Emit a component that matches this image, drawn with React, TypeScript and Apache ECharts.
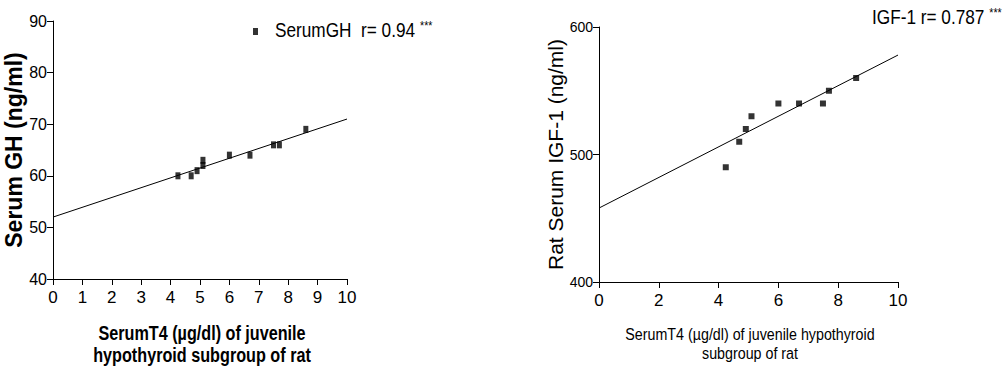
import React, { useEffect, useRef } from "react";
import * as echarts from "echarts";

const ghPoints: [number, number][] = [
  [4.25, 60], [4.7, 60], [4.9, 61], [5.1, 62], [5.1, 63],
  [6.0, 64], [6.7, 64], [7.5, 66], [7.7, 66], [8.6, 69],
];
const ghFit: [number, number][] = [[0, 52], [10, 71]];
const igfPoints: [number, number][] = [
  [4.24, 490], [4.69, 510], [4.91, 520], [5.1, 530], [6.0, 540],
  [6.69, 540], [7.49, 540], [7.69, 550], [8.6, 560],
];
const igfFit: [number, number][] = [[0, 458], [10, 578]];
const leftXTicks = { min: 0, max: 10, interval: 1 };
const leftYTicks = { min: 40, max: 90, interval: 10 };
const rightXTicks = { min: 0, max: 10, interval: 2 };
const rightYTicks = { min: 400, max: 600, interval: 100 };
const ghLegend = "SerumGH  r= 0.94";
const igfLegend = "IGF-1 r= 0.787";
const leftXTitle = "SerumT4 (µg/dl) of juvenile\nhypothyroid subgroup of rat";
const rightXTitle = "SerumT4 (µg/dl) of juvenile hypothyroid\nsubgroup of rat";

const FONT = "Liberation Sans, Arial, sans-serif";

function axisBase(labelSize: number, labelMargin: number, extra: any) {
  return {
    axisLine: { show: true, lineStyle: { color: "#000", width: 1 } },
    axisTick: { show: true, length: 6, lineStyle: { color: "#000", width: 1 } },
    splitLine: { show: false },
    axisLabel: { color: "#000", fontFamily: FONT, fontSize: labelSize, margin: labelMargin },
    ...extra,
  };
}

export default function App() {
  const ref = useRef<HTMLDivElement>(null);
  useEffect(() => {
    if (!ref.current) return;
    const chart = echarts.init(ref.current, null, { renderer: "svg" });
    chart.setOption({
      animation: false,
      backgroundColor: "#fff",
      textStyle: { fontFamily: FONT },
      grid: [
        { left: 53, top: 21, width: 294, height: 258 },
        { left: 599, top: 27, width: 299, height: 255 },
      ],
      legend: {
        data: ["SerumGH"],
        left: 253,
        top: 28,
        padding: 0,
        icon: "rect",
        itemWidth: 5,
        itemHeight: 7,
        formatter: () => "",
        textStyle: { fontSize: 7, lineHeight: 7 },
      },
      graphic: [
        {
          type: "text",
          x: 275,
          y: 30,
          scaleX: 0.82,
          style: {
            text: ghLegend + " {c|***}",
            fill: "#000",
            font: "21px " + FONT,
            textVerticalAlign: "middle",
            rich: { c: { fontSize: 13, fill: "#000", fontFamily: FONT, verticalAlign: "top", padding: [0, 0, 6, 0] } },
          },
        },
        {
          type: "text",
          x: 872,
          y: 17,
          scaleX: 0.82,
          style: {
            text: igfLegend + " {c|***}",
            fill: "#000",
            font: "21px " + FONT,
            textVerticalAlign: "middle",
            rich: { c: { fontSize: 13, fill: "#000", fontFamily: FONT, verticalAlign: "top", padding: [0, 0, 6, 0] } },
          },
        },
        {
          type: "text",
          x: 202,
          y: 344,
          scaleX: 0.81,
          style: {
            text: leftXTitle,
            fill: "#000",
            font: "bold 20px " + FONT,
            lineHeight: 22,
            textAlign: "center",
            textVerticalAlign: "middle",
          },
        },
        {
          type: "text",
          x: 750,
          y: 343.5,
          scaleX: 0.84,
          style: {
            text: rightXTitle,
            fill: "#000",
            font: "17px " + FONT,
            lineHeight: 19,
            textAlign: "center",
            textVerticalAlign: "middle",
          },
        },
      ],
      xAxis: [
        axisBase(17, 10, { type: "value", gridIndex: 0, ...leftXTicks }),
        axisBase(17, 10, { type: "value", gridIndex: 1, ...rightXTicks }),
      ],
      yAxis: [
        axisBase(16, 6, {
          type: "value",
          gridIndex: 0,
          ...leftYTicks,
          name: "Serum GH (ng/ml)",
          nameLocation: "middle",
          nameGap: 22,
          nameTextStyle: { color: "#000", fontFamily: FONT, fontWeight: "bold", fontSize: 23 },
        }),
        axisBase(14, 6, {
          type: "value",
          gridIndex: 1,
          ...rightYTicks,
          name: "Rat Serum IGF-1 (ng/ml)",
          nameLocation: "middle",
          nameGap: 29,
          nameTextStyle: { color: "#000", fontFamily: FONT, fontSize: 21 },
        }),
      ],
      series: [
        {
          name: "SerumGH",
          type: "scatter",
          xAxisIndex: 0,
          yAxisIndex: 0,
          data: ghPoints,
          symbol: "rect",
          symbolSize: [5, 7],
          itemStyle: { color: "#000" },
        },
        {
          name: "GH fit",
          type: "line",
          xAxisIndex: 0,
          yAxisIndex: 0,
          data: ghFit,
          showSymbol: false,
          lineStyle: { color: "#000", width: 1 },
        },
        {
          name: "IGF-1",
          type: "scatter",
          xAxisIndex: 1,
          yAxisIndex: 1,
          data: igfPoints,
          symbol: "rect",
          symbolSize: [6, 6],
          itemStyle: { color: "#000" },
        },
        {
          name: "IGF fit",
          type: "line",
          xAxisIndex: 1,
          yAxisIndex: 1,
          data: igfFit,
          showSymbol: false,
          lineStyle: { color: "#000", width: 1 },
        },
      ],
    });
    return () => chart.dispose();
  }, []);
  return (
    <div
      ref={ref}
      style={{ position: "fixed", left: 0, top: 0, width: 1008, height: 372, background: "#fff" }}
    />
  );
}
